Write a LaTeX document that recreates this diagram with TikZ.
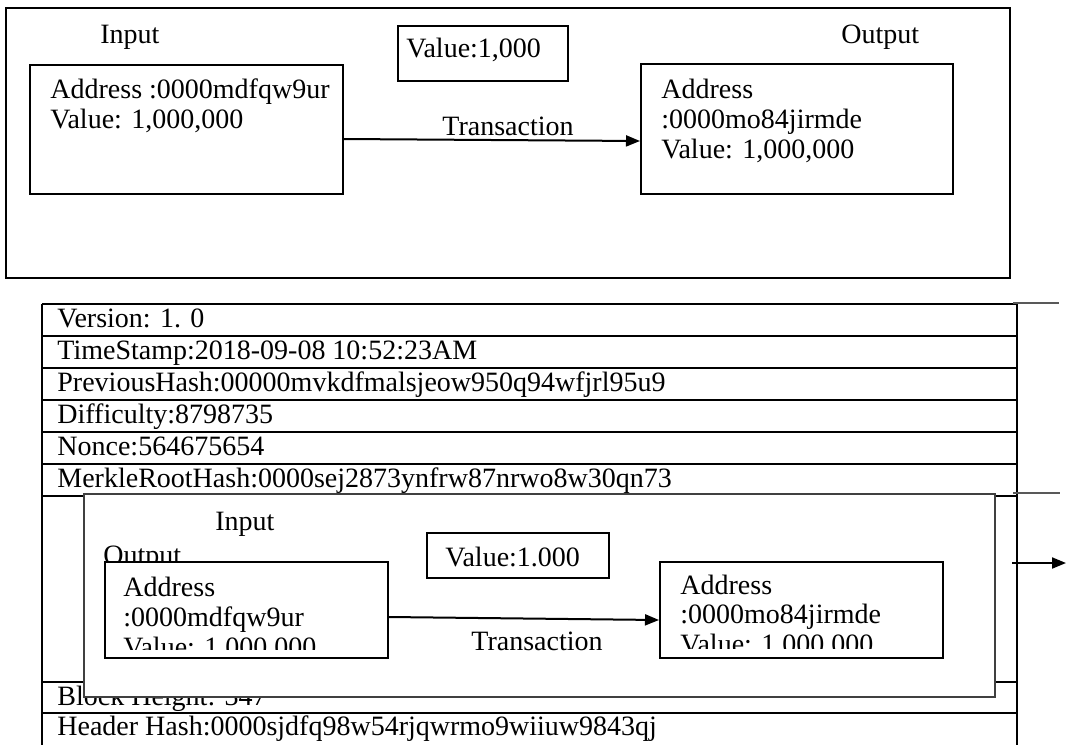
\documentclass[tikz,border=0pt]{standalone}
\usepackage{fontspec}
\setmainfont{Liberation Serif}
\usetikzlibrary{calc,arrows.meta}
\begin{document}
\begin{tikzpicture}[x=0.5pt,y=-0.5pt,
  box/.style={draw,line width=1pt,fill=white,inner sep=0pt,anchor=north west},
  ibox/.style={draw=black!75,line width=0.9pt,fill=white,inner sep=0pt,anchor=north west},
  txt/.style={anchor=base west,inner sep=0pt,font=\fontsize{14}{15}\selectfont},
  ctxt/.style={anchor=base,inner sep=0pt,font=\fontsize{14}{15}\selectfont},
  arr/.style={-{Triangle[length=7pt,width=5.5pt]},line width=1pt},
  rule/.style={line width=1pt},
  grule/.style={line width=1pt,draw=black!65}]
\useasboundingbox (0,0) rectangle (1066,745);

% ---------- top transaction ----------
\node[box,fill=none,minimum width=502pt,minimum height=135pt] (outer) at (5,7) {};
\node[txt] (lin) at (100,43) {Input};
\node[txt] (lout) at (841,43) {Output};
\node[box,minimum width=85pt,minimum height=27.5pt] (valA) at (397,25) {};
\node[txt] (valAt) at (406,57) {Value:1,000};
\node[box,minimum width=156.5pt,minimum height=64.5pt] (inA) at (29,64) {};
\node[txt] (inA1) at (50,98) {Address :0000mdfqw9ur};
\node[txt] (inA2) at (50,128) {Value: 1,000,000};
\node[box,minimum width=156pt,minimum height=65pt] (outA) at (640,63) {};
\node[txt] (outA1) at (661,98) {Address};
\node[txt] (outA2) at (661,128) {:0000mo84jirmde};
\node[txt] (outA3) at (661,158) {Value: 1,000,000};
\node[ctxt] (trA) at (508,135) {Transaction};
\draw[arr] ($(inA.east)+(0,9.5)$) -- ($(outA.west)+(0,12)$);

% ---------- block table ----------
\foreach \yy in {304,336,368,400,432,464,496,682,713}
  \draw[rule] (42,\yy) -- (1017,\yy);
\draw[rule] (42,304) -- (42,745);
\draw[rule] (1017,304) -- (1017,745);
\node[txt] (r1) at (57,327) {Version: 1. 0};
\node[txt] (r2) at (57,359) {TimeStamp:2018-09-08 10:52:23AM};
\node[txt] (r3) at (57,391) {PreviousHash:00000mvkdfmalsjeow950q94wfjrl95u9};
\node[txt] (r4) at (57,423) {Difficulty:8798735};
\node[txt] (r5) at (57,455) {Nonce:564675654};
\node[txt] (r6) at (57,487) {MerkleRootHash:0000sej2873ynfrw87nrwo8w30qn73};
\node[txt] (r7) at (57,705) {Block Height: 347};
\node[txt] (r8) at (57,735) {Header Hash:0000sjdfq98w54rjqwrmo9wiiuw9843qj};

\draw[grule] (1013,303) -- (1059,303);
\draw[grule] (1013,493) -- (1060,493);
\coordinate (arS) at (1012,563);
\coordinate (arE) at (1066,563);
\draw[arr] (arS) -- (arE);

% ---------- inner transaction ----------
\node[ibox,minimum width=455.5pt,minimum height=101.5pt] (inner) at (83,493) {};
\node[txt] (lin2) at (215,530) {Input};
\node[txt] (lout2) at (103,564) {Output};
\node[box,minimum width=91pt,minimum height=22.5pt] (valB) at (426,532) {};
\node[txt] (valBt) at (445,566) {Value:1.000};
\node[box,minimum width=141.5pt,minimum height=48pt] (inB) at (104,561) {};
\node[box,minimum width=141.5pt,minimum height=48pt] (outB) at (659,561) {};
\begin{scope}
  \clip (inB.north west) rectangle ($(inB.south east)+(0,-10)$);
  \node[txt] (inB1) at (123,596) {Address};
  \node[txt] (inB2) at (123,626) {:0000mdfqw9ur};
  \node[txt] (inB3) at (123,656) {Value: 1,000,000};
\end{scope}
\begin{scope}
  \clip (outB.north west) rectangle ($(outB.south east)+(0,-11)$);
  \node[txt] (outB1) at (680,594) {Address};
  \node[txt] (outB2) at (680,623) {:0000mo84jirmde};
  \node[txt] (outB3) at (680,653) {Value: 1,000,000};
\end{scope}
\node[ctxt] (trB) at (537,650) {Transaction};
\draw[arr] ($(inB.east)+(0,7)$) -- ($(outB.west)+(0,10)$);
\end{tikzpicture}
\end{document}
